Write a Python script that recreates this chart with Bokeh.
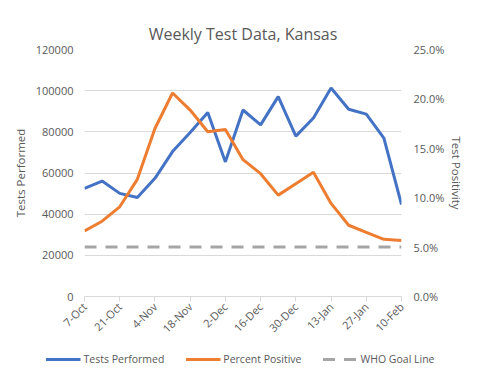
import math
from bokeh.plotting import figure
from bokeh.models import (Range1d, LinearAxis, FixedTicker, NumeralTickFormatter,
                          Legend, LegendItem, ColumnDataSource)
from bokeh.embed import file_html
from bokeh.resources import INLINE

weeks = ["7-Oct", "14-Oct", "21-Oct", "28-Oct", "4-Nov", "11-Nov", "18-Nov", "25-Nov",
         "2-Dec", "9-Dec", "16-Dec", "23-Dec", "30-Dec", "6-Jan", "13-Jan", "20-Jan",
         "27-Jan", "3-Feb", "10-Feb"]
tests_performed = [52500, 56100, 50100, 48100, 57400, 70400, 79700, 89400, 65400, 90600,
                   83400, 97100, 77900, 86700, 101300, 91000, 88600, 76900, 44700]
percent_positive = [0.0664, 0.0762, 0.0908, 0.1186, 0.170, 0.206, 0.1887, 0.1667, 0.169,
                    0.1385, 0.1243, 0.1026, 0.1142, 0.1257, 0.0942, 0.0721, 0.065, 0.0579,
                    0.0566]
who_goal = 0.05
left_ticks = [0, 20000, 40000, 60000, 80000, 100000, 120000]
right_ticks = [0.0, 0.05, 0.10, 0.15, 0.20, 0.25]
series_names = ["Tests Performed", "Percent Positive", "WHO Goal Line"]

BLUE = "#4472C4"
ORANGE = "#ED7D31"
GRAY = "#A5A5A5"
TEXT = "#595959"
GRID = "#D9D9D9"
FONT = "Open Sans"

x = list(range(len(weeks)))
src = ColumnDataSource(dict(x=x, tests=tests_performed, pct=percent_positive,
                            goal=[who_goal] * len(weeks)))

p = figure(width=480, height=343, output_backend="svg", toolbar_location=None,
           x_range=Range1d(0, len(weeks) - 1), y_range=Range1d(0, 120000),
           min_border_left=84, min_border_right=79, min_border_top=49, min_border_bottom=47)
p.extra_y_ranges = {"pct": Range1d(0, 0.25)}
p.outline_line_color = None
p.background_fill_color = "white"
p.border_fill_color = "white"

p.title.text = "Weekly Test Data, Kansas"
p.title.align = "center"
p.title.text_font = FONT
p.title.text_font_size = "16px"
p.title.text_font_style = "normal"
p.title.text_color = TEXT

# x axis
xa = p.xaxis[0]
xa.ticker = FixedTicker(ticks=x[::2])
xa.major_label_overrides = {i: weeks[i] for i in x}
xa.major_label_orientation = math.pi / 4
xa.axis_line_color = GRID
xa.major_tick_line_color = GRID
xa.major_tick_out = 5
xa.major_tick_in = 0
xa.minor_tick_line_color = None
xa.major_label_text_font = FONT
xa.major_label_text_font_size = "11px"
xa.major_label_text_color = TEXT
xa.major_label_standoff = 3
p.xgrid.grid_line_color = None

# left axis
ya = p.yaxis[0]
ya.ticker = FixedTicker(ticks=left_ticks)
ya.axis_line_color = None
ya.major_tick_line_color = None
ya.minor_tick_line_color = None
ya.major_tick_out = 0
ya.major_tick_in = 0
ya.major_label_standoff = 11
ya.major_label_text_font = FONT
ya.major_label_text_font_size = "11px"
ya.major_label_text_color = TEXT
ya.axis_label = "Tests Performed"
ya.axis_label_text_font = FONT
ya.axis_label_text_font_size = "11.5px"
ya.axis_label_text_font_style = "normal"
ya.axis_label_text_color = TEXT
ya.axis_label_standoff = 5
ya.formatter = NumeralTickFormatter(format="0")
p.ygrid.ticker = FixedTicker(ticks=left_ticks)
p.ygrid.grid_line_color = GRID

# right axis
ra = LinearAxis(y_range_name="pct", ticker=FixedTicker(ticks=right_ticks),
                formatter=NumeralTickFormatter(format="0.0%"))
ra.axis_line_color = None
ra.major_tick_line_color = None
ra.minor_tick_line_color = None
ra.major_tick_out = 0
ra.major_tick_in = 0
ra.major_label_standoff = 12
ra.major_label_text_font = FONT
ra.major_label_text_font_size = "11px"
ra.major_label_text_color = TEXT
ra.axis_label = "Test Positivity"
ra.axis_label_text_font = FONT
ra.axis_label_text_font_size = "11.5px"
ra.axis_label_text_font_style = "normal"
ra.axis_label_text_color = TEXT
ra.axis_label_standoff = 2
p.add_layout(ra, "right")

p.line("x", "goal", source=src, y_range_name="pct", line_color=GRAY,
       line_width=3, line_dash="12 9")
p.line("x", "tests", source=src, line_color=BLUE, line_width=3)
p.line("x", "pct", source=src, y_range_name="pct", line_color=ORANGE, line_width=3)

# legend strip below the chart (separate root, so its frame spans the full width);
# same series and styles, drawn outside its own view so only the legend shows
lg = figure(width=480, height=32, output_backend="svg", toolbar_location=None,
            title_location=None,
            x_range=Range1d(0, len(weeks) - 1), y_range=Range1d(1e9, 2e9),
            x_axis_type=None, y_axis_type=None,
            min_border_left=0, min_border_right=0, min_border_top=0, min_border_bottom=0)
lg.extra_y_ranges = {"pct": Range1d(1e3, 2e3)}
lg.outline_line_color = None
lg.grid.grid_line_color = None
lg.background_fill_color = "white"
lg.border_fill_color = "white"
l_tests = lg.line("x", "tests", source=src, line_color=BLUE, line_width=3)
l_pct = lg.line("x", "pct", source=src, y_range_name="pct", line_color=ORANGE, line_width=3)
l_goal = lg.line("x", "goal", source=src, y_range_name="pct", line_color=GRAY,
                 line_width=3, line_dash="12 9")

legend = Legend(items=[LegendItem(label=series_names[0], renderers=[l_tests]),
                       LegendItem(label=series_names[1], renderers=[l_pct]),
                       LegendItem(label=series_names[2], renderers=[l_goal])],
                orientation="horizontal", location="center")
legend.glyph_width = 35
legend.label_standoff = 3
legend.spacing = 21
legend.padding = 0
legend.margin = 0
legend.border_line_color = None
legend.background_fill_alpha = 0
legend.label_text_font = FONT
legend.label_text_font_size = "10.5px"
legend.label_text_color = TEXT
lg.add_layout(legend, "center")

open("out.html", "w").write(file_html([p, lg], INLINE))
